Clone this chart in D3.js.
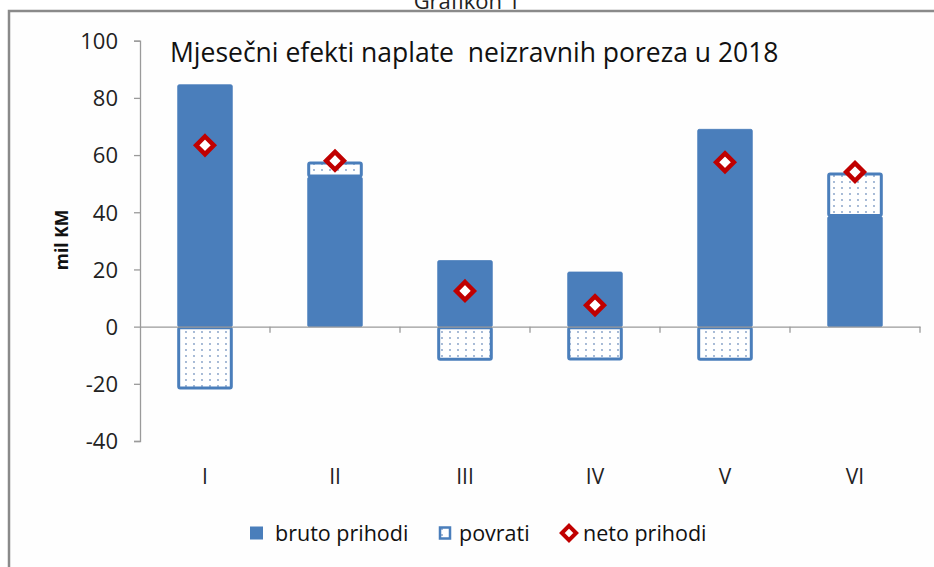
<!DOCTYPE html>
<html>
<head>
<meta charset="utf-8">
<script src="https://cdn.jsdelivr.net/npm/d3@7"></script>
<style>
  body { margin: 0; background: #ffffff; }
  svg { display: block; font-family: "Open Sans", "Noto Sans", sans-serif; }
</style>
</head>
<body>
<svg id="chart"></svg>
<script>
const months = ["I", "II", "III", "IV", "V", "VI"]
const bruto = [84.6, 52.3, 23.1, 19.1, 69, 38.5]
const povrati = [-21.8, 5.3, -11.8, -11.7, -11.8, 15.2]
const neto = [63.4, 58, 12.5, 7.5, 57.5, 54.1]
const yTicks = [-40, -20, 0, 20, 40, 60, 80, 100]

const width = 934
const height = 567
const blue = "#4a7ebb"
const red = "#c00000"
const font = '"Open Sans", "Noto Sans", sans-serif'

const svg = d3.select("#chart")
    .attr("width", width)
    .attr("height", height)

// dotted fill for povrati
const defs = svg.append("defs")
const pat = defs.append("pattern")
    .attr("id", "dots")
    .attr("patternUnits", "userSpaceOnUse")
    .attr("width", 8)
    .attr("height", 6)
pat.append("rect").attr("width", 8).attr("height", 6).attr("fill", "#ffffff")
pat.append("circle").attr("cx", 2).attr("cy", 2).attr("r", 0.9).attr("fill", "#7f9cc4")

// outer frame
svg.append("text")
    .attr("x", 467)
    .attr("y", 9)
    .attr("text-anchor", "middle")
    .style("font-size", "22px")
    .style("fill", "#222")
    .text("Grafikon 1")

svg.append("rect")
    .attr("x", 9)
    .attr("y", 11)
    .attr("width", 940)
    .attr("height", 580)
    .attr("fill", "#fefefe")
    .attr("stroke", "#8a8a8a")
    .attr("stroke-width", 2.5)

const data = months.map((m, i) => ({ month: m, bruto: bruto[i], povrati: povrati[i], neto: neto[i] }))

const stackResult = d3.stack()
    .keys(["bruto", "povrati"])
    .offset(d3.stackOffsetDiverging)(data)

const x = d3.scaleBand()
    .domain(months)
    .range([140, 920])
    .paddingInner(0)

const y = d3.scaleLinear()
    .domain([-40, 100])
    .range([441, 40.7])

// y axis
const yAxis = d3.axisLeft(y)
    .tickValues(yTicks)
    .tickFormat(d => String(d))
    .tickSize(6)
    .tickPadding(16)
    .tickSizeOuter(6)

const gy = svg.append("g")
    .attr("transform", "translate(140,0)")
    .call(yAxis)
    .attr("font-family", font)
gy.select(".domain").attr("stroke", "#9a9a9a").attr("stroke-width", 1.3)
gy.selectAll(".tick line").attr("stroke", "#9a9a9a").attr("stroke-width", 1.3)
gy.selectAll(".tick text")
    .style("font-family", font)
    .style("font-size", "22px")
    .style("fill", "#222")
    .attr("dy", "0.36em")

svg.append("text")
    .attr("transform", "translate(68,240) rotate(-90)")
    .attr("text-anchor", "middle")
    .style("font-size", "17.5px")
    .style("font-weight", "bold")
    .style("fill", "#111")
    .text("mil KM")

// bars
svg.append("g")
    .selectAll("g")
    .data(stackResult)
    .enter()
    .append("g")
    .selectAll("rect")
    .data(s => s.map(d => ({ key: s.key, d })))
    .enter()
    .append("rect")
    .attr("x", v => x(v.d.data.month) + x.bandwidth() * 0.29 + (v.key === "povrati" ? 1 : 0))
    .attr("y", v => y(Math.max(v.d[0], v.d[1])) + (v.key === "povrati" ? 1 : 0))
    .attr("width", v => x.bandwidth() * 0.42 - (v.key === "povrati" ? 2 : 0))
    .attr("height", v => Math.abs(y(v.d[0]) - y(v.d[1])) - (v.key === "povrati" ? 2 : 0))
    .attr("rx", 1.5)
    .attr("fill", v => v.key === "bruto" ? blue : "url(#dots)")
    .attr("stroke", blue)
    .attr("stroke-width", v => v.key === "povrati" ? 3 : 0.8)

// x axis on zero line
const xAxis = d3.axisBottom(x)
    .tickSize(0)
    .tickFormat("")
const gx = svg.append("g")
    .attr("transform", `translate(0,${y(0)})`)
    .call(xAxis)
gx.select(".domain").attr("stroke", "#9a9a9a").attr("stroke-width", 1.3)

// category boundary ticks
svg.append("g")
    .selectAll("line")
    .data(months)
    .enter()
    .append("line")
    .attr("x1", d => x(d) + x.bandwidth())
    .attr("x2", d => x(d) + x.bandwidth())
    .attr("y1", y(0))
    .attr("y2", y(0) + 6)
    .attr("stroke", "#9a9a9a")
    .attr("stroke-width", 1.3)

// category labels
svg.append("g")
    .selectAll("text")
    .data(months)
    .enter()
    .append("text")
    .attr("x", d => x(d) + x.bandwidth() / 2)
    .attr("y", 484)
    .attr("text-anchor", "middle")
    .style("font-size", "21px")
    .style("fill", "#222")
    .text(d => d)

// neto markers
const diamond = d3.symbol().type(d3.symbolDiamond2).size(200)
svg.append("g")
    .selectAll("path")
    .data(data)
    .enter()
    .append("path")
    .attr("d", diamond)
    .attr("transform", d => `translate(${x(d.month) + x.bandwidth() / 2},${y(d.neto)})`)
    .attr("fill", "#ffffff")
    .attr("stroke", red)
    .attr("stroke-width", 4.5)

// title
svg.append("text")
    .attr("x", 170)
    .attr("y", 62)
    .style("font-size", "26.5px")
    .style("fill", "#111")
    .attr("xml:space", "preserve")
    .text("Mjesečni efekti naplate  neizravnih poreza u 2018")

// legend
const legend = svg.append("g").attr("transform", "translate(0,533)")
legend.append("rect")
    .attr("x", 250).attr("y", -6.5).attr("width", 13).attr("height", 13)
    .attr("fill", blue)
legend.append("text")
    .attr("x", 275).attr("y", 0).attr("dy", "0.35em")
    .style("font-size", "21.5px").style("fill", "#111")
    .text("bruto prihodi")
legend.append("rect")
    .attr("x", 440).attr("y", -5.5).attr("width", 10).attr("height", 11)
    .attr("fill", "url(#dots)").attr("stroke", blue).attr("stroke-width", 2.5)
legend.append("text")
    .attr("x", 459).attr("y", 0).attr("dy", "0.35em")
    .style("font-size", "21.5px").style("fill", "#111")
    .text("povrati")
legend.append("path")
    .attr("d", d3.symbol().type(d3.symbolDiamond2).size(130))
    .attr("transform", "translate(569,0)")
    .attr("fill", "#ffffff").attr("stroke", red).attr("stroke-width", 4)
legend.append("text")
    .attr("x", 583).attr("y", 0).attr("dy", "0.35em")
    .style("font-size", "21.5px").style("fill", "#111")
    .text("neto prihodi")
</script>
</body>
</html>
